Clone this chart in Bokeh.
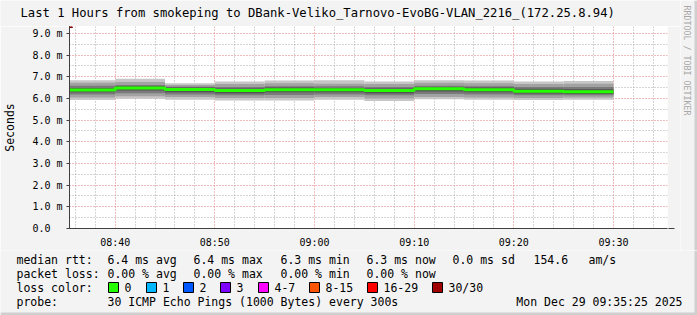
import math
import pandas as pd
from bokeh.plotting import figure
from bokeh.layouts import column, row
from bokeh.models import (FixedTicker, DatetimeTickFormatter, Arrow, NormalHead,
                          ColumnDataSource, Range1d)
from bokeh.core.properties import value
from bokeh.embed import file_html
from bokeh.resources import INLINE

# ---------------- data ----------------
DAY = "2025-12-29"
sample_ends = ["08:40", "08:45", "08:50", "08:55", "09:00", "09:05",
               "09:10", "09:15", "09:20", "09:25", "09:30"]
step_minutes = 5
median_ms = [6.39, 6.48, 6.41, 6.36, 6.40, 6.40, 6.36, 6.44, 6.40, 6.33, 6.31]
smoke_p100 = [6.84, 6.90, 6.70, 6.78, 6.82, 6.84, 6.78, 6.84, 6.82, 6.78, 6.80]
smoke_p90 = [6.72, 6.76, 6.62, 6.66, 6.70, 6.68, 6.66, 6.72, 6.70, 6.66, 6.68]
smoke_p75 = [6.58, 6.62, 6.54, 6.52, 6.56, 6.56, 6.52, 6.58, 6.56, 6.52, 6.52]
smoke_p60 = [6.48, 6.56, 6.50, 6.46, 6.50, 6.48, 6.46, 6.52, 6.50, 6.44, 6.42]
smoke_p40 = [6.28, 6.36, 6.28, 6.24, 6.28, 6.28, 6.24, 6.32, 6.28, 6.22, 6.20]
smoke_p25 = [6.18, 6.24, 6.18, 6.14, 6.16, 6.18, 6.14, 6.20, 6.18, 6.14, 6.14]
smoke_p10 = [6.04, 6.10, 6.06, 6.02, 6.02, 6.06, 6.00, 6.06, 6.04, 6.02, 6.04]
smoke_p0 = [5.92, 5.98, 5.94, 5.90, 5.90, 5.94, 5.88, 5.96, 5.94, 5.92, 5.94]

range_start = "08:35:25"
range_end = "09:35:25"
x_tick_labels = ["08:40", "08:50", "09:00", "09:10", "09:20", "09:30"]
y_ticks = [0, 1, 2, 3, 4, 5, 6, 7, 8, 9]
y_tick_labels = ["0.0\u00a0\u00a0", "1.0 m", "2.0 m", "3.0 m", "4.0 m",
                 "5.0 m", "6.0 m", "7.0 m", "8.0 m", "9.0 m"]
y_top = 9.315

title_text = "Last 1 Hours from smokeping to DBank-Veliko_Tarnovo-EvoBG-VLAN_2216_(172.25.8.94)"
y_label = "Seconds"
rtt_label = "median rtt:"
rtt_items = ["6.4 ms avg", "6.4 ms max", "6.3 ms min", "6.3 ms now", "0.0 ms sd", "154.6", "am/s"]
loss_label = "packet loss:"
loss_items = ["0.00 % avg", "0.00 % max", "0.00 % min", "0.00 % now"]
color_label = "loss color:"
loss_classes = ["0", "1", "2", "3", "4-7", "8-15", "16-29", "30/30"]
loss_colors = ["#26ff00", "#00b8ff", "#0059ff", "#7e00ff", "#ff00ff",
               "#ff5500", "#ff0000", "#a10000"]
probe_label = "probe:"
probe_text = "30 ICMP Echo Pings (1000 Bytes) every 300s"
stamp_text = "Mon Dec 29 09:35:25 2025"
watermark = "RRDTOOL / TOBI OETIKER"

# ---------------- layout constants (pixels) ----------------
W, H = 697, 315
MAIN_W, HEAD_H, MAIN_H = 680, 26, 224
FRAME_L, FRAME_R = 67, 667
FRAME_BOTTOM = 233
LEG_TOP = HEAD_H + MAIN_H
BG = "#f3f3f3"
SHADE = "#cfcfcf"
MONO = "DejaVu Sans Mono"


def ts(hm):
    return pd.Timestamp(f"{DAY} {hm}")


def pixel_fig(w, h):
    f = figure(width=w, height=h, output_backend="svg", toolbar_location=None,
               x_axis_type=None, y_axis_type=None, title=None,
               x_range=Range1d(0, w), y_range=Range1d(h, 0), min_border=0,
               frame_align=False)
    f.background_fill_color = BG
    f.border_fill_color = BG
    f.outline_line_color = None
    return f


def put_text(f, xs, ys, texts, size="11.5px", color="#000000", align="left", angle=0.0):
    f.text(x=xs, y=ys, text=texts, text_font=value(MONO), text_font_size=value(size),
           text_color=color, text_align=value(align), text_baseline=value("middle"),
           angle=angle)


# ---------------- header (title) ----------------
head = pixel_fig(MAIN_W, HEAD_H)
put_text(head, [20], [12], [title_text], size="12.2px")

# ---------------- main chart ----------------
ends = [ts(t) for t in sample_ends]
starts = [e - pd.Timedelta(minutes=step_minutes) for e in ends]

p = figure(width=MAIN_W, height=MAIN_H, output_backend="svg", toolbar_location=None,
           x_axis_type="datetime", title=None, frame_align=False,
           x_range=Range1d(ts(range_start), ts(range_end)),
           y_range=Range1d(0, y_top),
           min_border_left=FRAME_L, min_border_right=MAIN_W - FRAME_R,
           min_border_top=0, min_border_bottom=HEAD_H + MAIN_H - FRAME_BOTTOM)
p.background_fill_color = "white"
p.border_fill_color = BG
p.outline_line_color = None

src = ColumnDataSource(dict(left=starts, right=ends, med=median_ms,
                            p0=smoke_p0, p10=smoke_p10, p25=smoke_p25, p40=smoke_p40,
                            p60=smoke_p60, p75=smoke_p75, p90=smoke_p90, p100=smoke_p100))
for lo, hi, col in [("p0", "p100", "#c6c6c6"), ("p10", "p90", "#a2a2a2"),
                    ("p25", "p75", "#7a7a7a"), ("p40", "p60", "#525252")]:
    p.quad(left="left", right="right", bottom=lo, top=hi, source=src,
           fill_color=col, line_color=None)

step_x = starts + [ends[-1]]
step_y = median_ms + [median_ms[-1]]
p.step(step_x, step_y, mode="after", line_color=loss_colors[0], line_width=3)

major_x = [ts(t) for t in x_tick_labels]
minor_x = [t for t in pd.date_range(ts("08:36"), ts("09:34"), freq="2min") if t not in major_x]
to_ms = lambda t: t.value / 1e6
p.xaxis.ticker = FixedTicker(ticks=[to_ms(t) for t in major_x],
                             minor_ticks=[to_ms(t) for t in minor_x])
fmt = "%H:%M"
p.xaxis.formatter = DatetimeTickFormatter(seconds=fmt, minsec=fmt, minutes=fmt,
                                          hourmin=fmt, hours=fmt, days=fmt)
p.yaxis.ticker = FixedTicker(ticks=y_ticks, minor_ticks=[v + 0.5 for v in y_ticks[:-1]])
p.yaxis.major_label_overrides = {v: l for v, l in zip(y_ticks, y_tick_labels)}

for ax in (p.xaxis[0], p.yaxis[0]):
    ax.axis_line_color = "#404040"
    ax.major_tick_line_color = "#404040"
    ax.minor_tick_line_color = None
    ax.major_label_text_font = MONO
    ax.major_label_text_font_size = "10px"
    ax.major_label_text_color = "#000000"
p.xaxis.major_tick_out = 0
p.xaxis.major_tick_in = 0
p.xaxis.major_label_standoff = 4
p.yaxis.major_tick_out = 3
p.yaxis.major_tick_in = 0
p.yaxis.major_label_standoff = 3
p.yaxis.axis_label = y_label
p.yaxis.axis_label_text_font = MONO
p.yaxis.axis_label_text_font_style = "normal"
p.yaxis.axis_label_text_font_size = "11.5px"
p.yaxis.axis_label_text_color = "#000000"
p.yaxis.axis_label_standoff = 12

for g in (p.xgrid[0], p.ygrid[0]):
    g.grid_line_color = "#e07878"
    g.grid_line_dash = "1 2"
    g.minor_grid_line_color = "#a8a8a8"
    g.minor_grid_line_dash = "1 2"

arrow_head = dict(size=6, fill_color="#800000", line_color="#800000")
frame_w = FRAME_R - FRAME_L
frame_h = FRAME_BOTTOM - HEAD_H
p.add_layout(Arrow(x_start=-4, y_start=0, x_end=frame_w + 5, y_end=0,
                   start_units="screen", end_units="screen",
                   line_color="#404040", end=NormalHead(**arrow_head)))
p.add_layout(Arrow(x_start=0, y_start=-4, x_end=0, y_end=frame_h,
                   start_units="screen", end_units="screen",
                   line_color="#404040", end=NormalHead(**arrow_head)))

# ---------------- right strip (watermark) ----------------
wm_w = W - MAIN_W
wm = pixel_fig(wm_w, LEG_TOP)
wm.quad(left=[wm_w - 3], right=[wm_w], top=[0], bottom=[LEG_TOP],
        fill_color=SHADE, line_color=None)
put_text(wm, [686 - MAIN_W], [5], [watermark], size="8.3px", color="#a8a8a8",
         angle=-math.pi / 2)

# ---------------- legend area ----------------
leg_h = H - LEG_TOP
leg = pixel_fig(W, leg_h)
leg.quad(left=[W - 3], right=[W], top=[0], bottom=[leg_h], fill_color=SHADE, line_color=None)
leg.quad(left=[0], right=[W], top=[leg_h - 3], bottom=[leg_h], fill_color=SHADE, line_color=None)

rows_y = [259 - LEG_TOP, 273 - LEG_TOP, 287 - LEG_TOP, 301 - LEG_TOP]
col_x = [107, 193, 280, 366, 452, 533, 588]
put_text(leg, [16], [rows_y[0]], [rtt_label])
put_text(leg, col_x[:len(rtt_items)], [rows_y[0]] * len(rtt_items), rtt_items)
put_text(leg, [16], [rows_y[1]], [loss_label])
put_text(leg, col_x[:len(loss_items)], [rows_y[1]] * len(loss_items), loss_items)
put_text(leg, [16], [rows_y[2]], [color_label])
swatch_x = [108, 146, 183, 220, 258, 309, 367, 432]
leg.rect(x=[x + 5 for x in swatch_x], y=[rows_y[2]] * len(swatch_x), width=10, height=10,
         fill_color=loss_colors, line_color="#000000", line_width=1)
put_text(leg, [x + 16 for x in swatch_x], [rows_y[2]] * len(swatch_x), loss_classes)
put_text(leg, [16], [rows_y[3]], [probe_label])
put_text(leg, [107], [rows_y[3]], [probe_text])
put_text(leg, [682], [rows_y[3]], [stamp_text], align="right")

layout = column(row(column(head, p), wm), leg)
open("out.html", "w").write(file_html(layout, INLINE))
